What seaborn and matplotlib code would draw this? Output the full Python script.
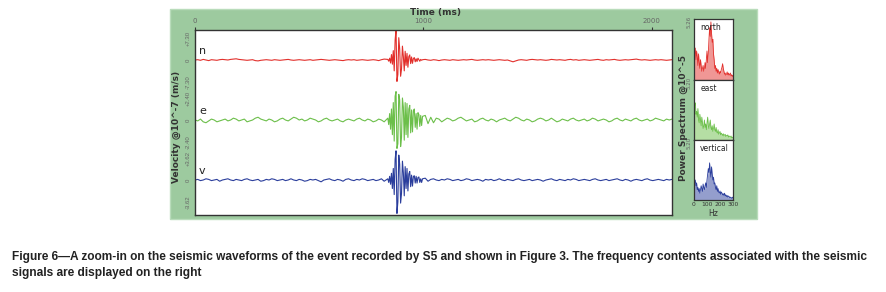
import numpy as np
import pandas as pd
import seaborn as sns
import matplotlib
matplotlib.use('Agg')
import matplotlib.pyplot as plt
from matplotlib.patches import Rectangle

# waveform samples (10^-7 m/s), time grid is denser around the event
t_pre = np.arange(0, 841, 12)
t_evt = np.arange(844, 997, 4)
t_post = np.arange(1008, 2089, 12)

north_pre = [0.0, 0.1, -0.1, 0.2, 0.0, -0.2, 0.1, 0.0, -0.1, 0.1, 0.2, 0.1, 0.0, 0.2, 0.3, 0.4, 0.2, 0.1, 0.0, -0.1,
             0.0, 0.1, -0.2, -0.3, -0.1, 0.0, 0.1, 0.0, -0.1, 0.1, 0.0, -0.1, 0.0, 0.1, 0.2, 0.0, -0.1, 0.0, 0.1, 0.0,
             -0.1, 0.0, 0.1, -0.1, 0.0, 0.1, 0.2, 0.1, 0.0, -0.1, 0.0, 0.1, 0.0, -0.1, -0.2, 0.0, 0.1, 0.0, 0.1, -0.1,
             0.0, 0.1, 0.0, -0.1, 0.0, 0.1, 0.0, -0.2, 0.1, 0.3, 0.2]
north_evt = [0.2, -0.4, 0.6, -1.0, 1.8, -1.4, 3.1, -3.6, 6.6, 10.1, -7.1, -4.8, 7.4, 3.6, -5.4, -3.0, 4.6, 1.2, -3.6,
             2.9, -1.8, 2.2, -2.4, 1.1, 1.7, -1.2, 1.0, -1.1, 0.5, 0.8, -0.6, 0.4, -0.5, 0.6, 0.1, -0.4, 0.2, -0.1, 0.1]
north_post = [0.2, 0.0, -0.1, 0.1, 0.0, -0.2, 0.0, 0.1, 0.0, -0.1, 0.1, 0.0, -0.1, 0.0, 0.1, 0.0, 0.1, 0.2, 0.0, -0.1,
              0.0, 0.1, 0.0, 0.1, 0.0, -0.1, 0.0, 0.1, 0.0, -0.1, 0.0, -0.3, -0.6, -0.3, 0.0, 0.1, 0.0, -0.1, 0.1, 0.2,
              0.1, 0.0, 0.1, 0.0, -0.1, 0.0, 0.2, 0.1, 0.0, 0.1, 0.0, -0.1, 0.1, 0.2, 0.0, 0.1, -0.1, 0.0, 0.1, 0.0,
              -0.1, 0.0, 0.1, 0.2, 0.0, -0.1, 0.1, 0.0, 0.1, 0.2, 0.0, -0.1, 0.0, 0.1, 0.0, 0.1, 0.2, 0.3, 0.1, 0.0,
              0.1, 0.0, -0.1, 0.0, 0.1, 0.0, 0.1, 0.0, -0.1, 0.0, 0.1]

east_pre = [0.0, -0.1, 0.1, -0.2, -0.3, -0.1, 0.1, 0.0, -0.2, -0.1, 0.0, 0.1, -0.1, 0.0, 0.2, 0.1, -0.1, 0.0, 0.1, -0.2,
            -0.1, 0.0, 0.2, 0.3, 0.1, 0.0, -0.1, 0.1, 0.0, -0.2, -0.1, 0.1, 0.2, 0.0, -0.1, 0.1, 0.3, 0.2, 0.0, 0.1,
            -0.1, 0.0, 0.2, 0.1, 0.0, -0.2, -0.1, 0.1, 0.2, 0.0, -0.1, 0.0, 0.1, -0.1, -0.2, 0.0, 0.1, 0.0, -0.1, 0.1,
            0.2, 0.0, -0.1, 0.1, 0.0, -0.2, -0.1, 0.1, 0.0, -0.2, 0.1]
east_evt = [0.2, -0.5, 0.7, -1.0, 1.2, -1.6, 1.9, -2.3, 2.6, 3.1, -3.1, -2.6, 2.8, 2.2, -2.9, -1.9, 2.4, 1.4, -2.2, 1.9,
            -1.6, 1.8, -1.9, 1.2, 1.6, -1.4, 1.1, -1.3, 1.0, 1.2, -0.8, 0.7, -1.0, 0.8, 0.6, -0.7, 0.5, -0.6, 0.4]
east_post = [0.5, -0.4, 0.3, -0.3, 0.2, 0.1, -0.2, 0.0, 0.2, 0.1, -0.1, 0.0, 0.2, 0.3, 0.1, -0.1, 0.0, 0.1, -0.2, -0.1,
             0.1, 0.2, 0.0, -0.1, 0.1, 0.0, -0.2, 0.0, 0.1, 0.2, 0.0, -0.1, 0.1, 0.3, 0.2, 0.0, -0.1, 0.1, 0.0, -0.2,
             -0.1, 0.1, 0.2, 0.1, -0.1, 0.0, 0.2, 0.0, -0.2, -0.1, 0.1, 0.0, -0.1, 0.1, 0.2, 0.0, -0.1, 0.0, 0.1, -0.1,
             0.0, 0.2, 0.1, -0.1, 0.0, 0.1, 0.0, -0.2, -0.1, 0.1, 0.2, 0.0, -0.1, 0.1, 0.0, -0.1, 0.1, 0.2, 0.0, -0.1,
             0.0, 0.1, -0.1, 0.0, 0.2, 0.1, 0.0, -0.1, 0.1, 0.0, 0.1]

vert_pre = [0.0, 0.1, -0.1, 0.0, 0.2, 0.1, -0.1, 0.0, 0.1, -0.2, 0.0, 0.1, 0.2, 0.0, -0.1, 0.1, 0.0, -0.1, 0.1, 0.2,
            0.0, -0.1, 0.0, 0.1, -0.2, -0.1, 0.1, 0.0, 0.2, 0.1, -0.1, 0.0, 0.1, -0.1, 0.0, 0.2, 0.0, -0.1, 0.1, 0.0,
            -0.2, -0.1, 0.1, 0.0, 0.1, -0.1, -0.3, 0.0, 0.1, 0.2, 0.0, -0.1, 0.1, 0.0, -0.2, 0.1, 0.2, 0.0, -0.1, 0.1,
            0.0, 0.2, 0.1, -0.1, 0.0, 0.1, -0.1, 0.0, 0.2, -0.2, 0.1]
vert_evt = [0.2, -0.4, 0.6, -0.7, 1.1, -1.4, 1.9, -2.4, 3.4, 4.8, -5.5, -3.6, 4.1, 2.6, -3.8, -2.2, 3.1, 1.2, -2.6, 2.2,
            -1.4, 1.9, -1.8, 1.0, 1.4, -1.1, 0.8, -1.0, 0.6, 0.7, -0.5, 0.6, -0.5, 0.4, 0.5, -0.4, 0.2, -0.4, 0.2]
vert_post = [0.3, -0.2, 0.1, 0.2, 0.0, -0.1, 0.1, 0.0, 0.2, 0.1, -0.1, 0.0, 0.1, -0.1, 0.0, 0.2, 0.1, -0.1, 0.0, 0.1,
             0.0, -0.2, 0.1, 0.0, 0.1, -0.1, 0.0, 0.2, 0.0, -0.1, 0.1, 0.0, -0.1, 0.1, 0.2, 0.0, -0.1, 0.0, 0.1, -0.1,
             0.0, 0.1, 0.0, -0.2, 0.0, 0.1, 0.2, 0.0, -0.1, 0.1, 0.0, -0.1, 0.1, 0.0, 0.2, 0.1, -0.1, 0.0, 0.1, 0.0,
             -0.1, 0.1, 0.2, 0.0, -0.1, 0.0, 0.1, -0.1, 0.0, 0.1, 0.2, 0.0, -0.1, 0.1, 0.0, -0.2, 0.0, 0.1, 0.0, -0.1,
             0.1, 0.2, 0.0, -0.1, 0.0, 0.1, 0.0, -0.1, 0.1, 0.0, 0.1]

channels = ['n', 'e', 'v']
amp_labels = ['7.30', '2.40', '3.62']
amps = [7.30, 2.40, 3.62]

# power spectra, % of panel max, 0..300 Hz every 5 Hz
freq = np.arange(0, 301, 5)
spec_north = [30, 45, 55, 35, 50, 40, 25, 45, 30, 20, 35, 25, 15, 20, 25, 15, 20, 30, 20, 35, 50, 30, 45, 70, 90, 75,
              100, 80, 65, 70, 45, 35, 20, 25, 15, 20, 12, 18, 14, 10, 15, 12, 18, 22, 28, 20, 15, 10, 12, 8, 10, 14,
              9, 12, 8, 10, 12, 7, 9, 6, 8]
spec_east = [75, 60, 65, 45, 50, 40, 55, 35, 30, 45, 35, 25, 40, 30, 20, 25, 35, 22, 28, 18, 30, 40, 25, 20, 28, 35,
             22, 18, 25, 15, 20, 28, 18, 15, 22, 14, 12, 18, 10, 12, 15, 9, 12, 10, 8, 11, 7, 9, 10, 6, 8, 7, 9, 5, 7,
             6, 5, 7, 4, 5, 4]
spec_vert = [20, 30, 35, 25, 30, 18, 22, 15, 20, 12, 18, 25, 20, 15, 28, 22, 18, 25, 30, 22, 35, 45, 55, 48, 65, 50,
             40, 58, 45, 35, 40, 28, 30, 22, 18, 25, 15, 20, 14, 12, 16, 10, 14, 12, 9, 11, 8, 12, 7, 9, 6, 8, 5, 7, 6,
             4, 5, 4, 3, 5, 3]
spec_names = ['north', 'east', 'vertical']
spec_top_labels = ['5.26', '5.20', '5.20']

caption1 = ('Figure 6\u2014A zoom-in on the seismic waveforms of the event recorded by S5 and shown in Figure 3. '
            'The frequency contents associated with the seismic')
caption2 = 'signals are displayed on the right'

W, H = 886, 292
GREEN = '#9dca9f'
colors = ['#e2302c', '#6cbf4a', '#2b3e9c']
centers = [155, 95, 35]
half = 22

sns.set_style('white')
plt.rcParams['font.family'] = ['DejaVu Sans']


def box(x0, y0, x1, y1):
    return [x0 / W, 1 - y1 / H, (x1 - x0) / W, (y1 - y0) / H]


t_all = np.concatenate([t_pre, t_evt, t_post])
wave = pd.DataFrame({
    'time': np.tile(t_all, 3),
    'vel': north_pre + north_evt + north_post + east_pre + east_evt + east_post + vert_pre + vert_evt + vert_post,
    'channel': np.repeat(channels, len(t_all)),
})

fig = plt.figure(figsize=(W / 100, H / 100), dpi=100)
fig.patches.append(Rectangle((170 / W, 1 - 219 / H), 587 / W, 210 / H, transform=fig.transFigure,
                             facecolor=GREEN, edgecolor='#b9dcbb', lw=1.0, zorder=-5))

ax = fig.add_axes(box(195, 30, 672, 215))
ax.set_facecolor('white')
yt, yl = [], []
for ch, amp, lab, c, y0 in zip(channels, amps, amp_labels, colors, centers):
    d = wave[wave['channel'] == ch].copy()
    d['y'] = y0 + d['vel'] / amp * half
    sns.lineplot(data=d, x='time', y='y', color=c, lw=0.8, ax=ax, estimator=None, sort=False)
    ax.text(18, y0 + 9, ch, fontsize=8, color='#222', va='center', ha='left')
    yt += [y0 + half, y0, y0 - half]
    yl += ['+' + lab, '0', '-' + lab]

ax.set_xlim(0, 2088)
ax.set_ylim(0, 185)
ax.set_xlabel('')
ax.set_ylabel('')
ax.xaxis.tick_top()
ax.set_xticks([0, 1000, 2000])
ax.tick_params(axis='x', labelsize=5, colors='#333', labelcolor='#666', length=2, width=0.8, pad=2)
ax.set_yticks(yt)
ax.set_yticklabels(yl, rotation=90, va='center', family=['Liberation Sans', 'DejaVu Sans'])
ax.tick_params(axis='y', labelsize=4.3, labelcolor='#666', length=0, pad=3)
for s in ax.spines.values():
    s.set_color('#333')
    s.set_linewidth(1.0)

fig.text(435 / W, 1 - 13 / H, 'Time (ms)', fontsize=6.5, fontweight='bold', color='#333', ha='center', va='center')
fig.text(176 / W, 1 - 127 / H, 'Velocity @10^-7 (m/s)', fontsize=6.5, fontweight='bold', color='#333',
         rotation=90, ha='center', va='center')
fig.text(683 / W, 1 - 118 / H, 'Power Spectrum @10^-5', fontsize=6.5, fontweight='bold', color='#333',
         rotation=90, ha='center', va='center')

spec_rows = [(19, 80), (80, 140), (140, 200)]
for i, (vals, name, toplab, c, (y0, y1)) in enumerate(zip([spec_north, spec_east, spec_vert], spec_names,
                                                              spec_top_labels, colors, spec_rows)):
    sa = fig.add_axes(box(694, y0, 733, y1))
    sa.set_facecolor('white')
    sns.lineplot(x=freq, y=vals, color=c, lw=0.6, ax=sa)
    sa.fill_between(freq, vals, color=c, alpha=0.5, lw=0)
    sa.set_xlim(0, 300)
    sa.set_ylim(0, 105)
    sa.set_xticks([0, 100, 200, 300])
    sa.set_xticks([50, 150, 250], minor=True)
    sa.tick_params(axis='x', which='both', direction='in', length=2, width=0.6, colors='#333',
                   labelsize=4.3, pad=1.5, labelbottom=(i == 2))
    sa.set_yticks([100])
    sa.set_yticklabels([toplab], rotation=90, va='center')
    sa.tick_params(axis='y', length=0, labelsize=4, labelcolor='#666', pad=2)
    sa.text(0.16, 0.93, name, transform=sa.transAxes, fontsize=5.5, color='#222', va='top', ha='left')
    for s in sa.spines.values():
        s.set_color('#333')
        s.set_linewidth(0.9)

fig.text(713 / W, 1 - 214 / H, 'Hz', fontsize=5.5, color='#333', ha='center', va='center')

cap_font = ['Liberation Sans', 'DejaVu Sans']
fig.text(12 / W, 1 - 257 / H, caption1, fontsize=8.6, fontweight='bold', color='#222', ha='left', va='center',
         family=cap_font)
fig.text(12 / W, 1 - 273 / H, caption2, fontsize=8.6, fontweight='bold', color='#222', ha='left', va='center',
         family=cap_font)

fig.savefig('out.png', dpi=100)
